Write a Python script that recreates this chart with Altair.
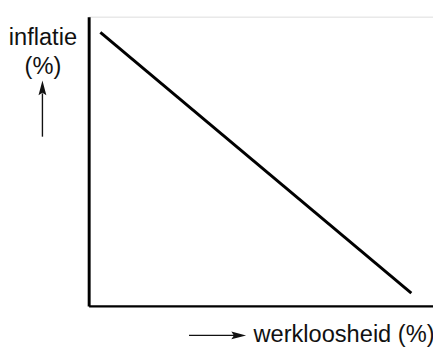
import altair as alt
import pandas as pd

# Phillips-curve style schematic: inflation falls as unemployment rises
werkloosheid = [3.4, 93.7]
inflatie = [94.6, 4.4]

y_title = ["inflatie", "(%)"]
x_title = "werkloosheid (%)"

FONT = "Liberation Sans"

df = pd.DataFrame({"werkloosheid": werkloosheid, "inflatie": inflatie})

x_enc = alt.X(
    "werkloosheid:Q",
    scale=alt.Scale(domain=[0, 100], nice=False, zero=False),
    axis=alt.Axis(
        title=x_title,
        labels=False, ticks=False, grid=False,
        domainColor="black", domainWidth=2.5,
        titleFont=FONT, titleFontSize=24, titleFontWeight="normal",
        titleColor="#111111",
        titleAlign="left", titleBaseline="alphabetic",
        titleX=167, titleY=36, titleAnchor="start",
    ),
)
y_enc = alt.Y(
    "inflatie:Q",
    scale=alt.Scale(domain=[0, 100], nice=False, zero=False),
    axis=alt.Axis(
        title=y_title,
        labels=False, ticks=False, grid=False,
        domainColor="black", domainWidth=3,
        titleFont=FONT, titleFontSize=24, titleFontWeight="normal",
        titleColor="#111111", titleAngle=0,
        titleAlign="center", titleBaseline="alphabetic",
        titleX=-47, titleY=28, titleLineHeight=30,
    ),
)

line = alt.Chart(df).mark_line(color="black", strokeWidth=3, clip=False).encode(
    x=x_enc, y=y_enc
)

# decorative axis arrows (annotation only)
up_shaft = alt.Chart(df.head(1)).mark_rule(color="#111111", strokeWidth=1.4).encode(
    x=alt.value(-47), y=alt.value(122), y2=alt.value(78)
)
up_head = alt.Chart(df.head(1)).mark_point(
    shape="M0,-1L0.53,1L0,0.65L-0.53,1Z", filled=True, color="#111111",
    size=225, opacity=1, strokeWidth=0,
).encode(x=alt.value(-47), y=alt.value(72.5))

right_shaft = alt.Chart(df.head(1)).mark_rule(color="#111111", strokeWidth=1.4).encode(
    x=alt.value(102), x2=alt.value(150), y=alt.value(324)
)
right_head = alt.Chart(df.head(1)).mark_point(
    shape="M1,0L-1,0.53L-0.65,0L-1,-0.53Z", filled=True, color="#111111",
    size=225, opacity=1, strokeWidth=0,
).encode(x=alt.value(152.5), y=alt.value(324))

chart = (
    alt.layer(line, up_shaft, up_head, right_shaft, right_head)
    .properties(
        width=350, height=294,
        autosize=alt.AutoSizeParams(type="none"),
        padding={"left": 82, "top": 6, "right": 0, "bottom": 39},
    )
    .configure_view(stroke=None)
    .configure(background="white")
)

chart.save("out.html", embed_options={"renderer": "svg", "actions": False})
